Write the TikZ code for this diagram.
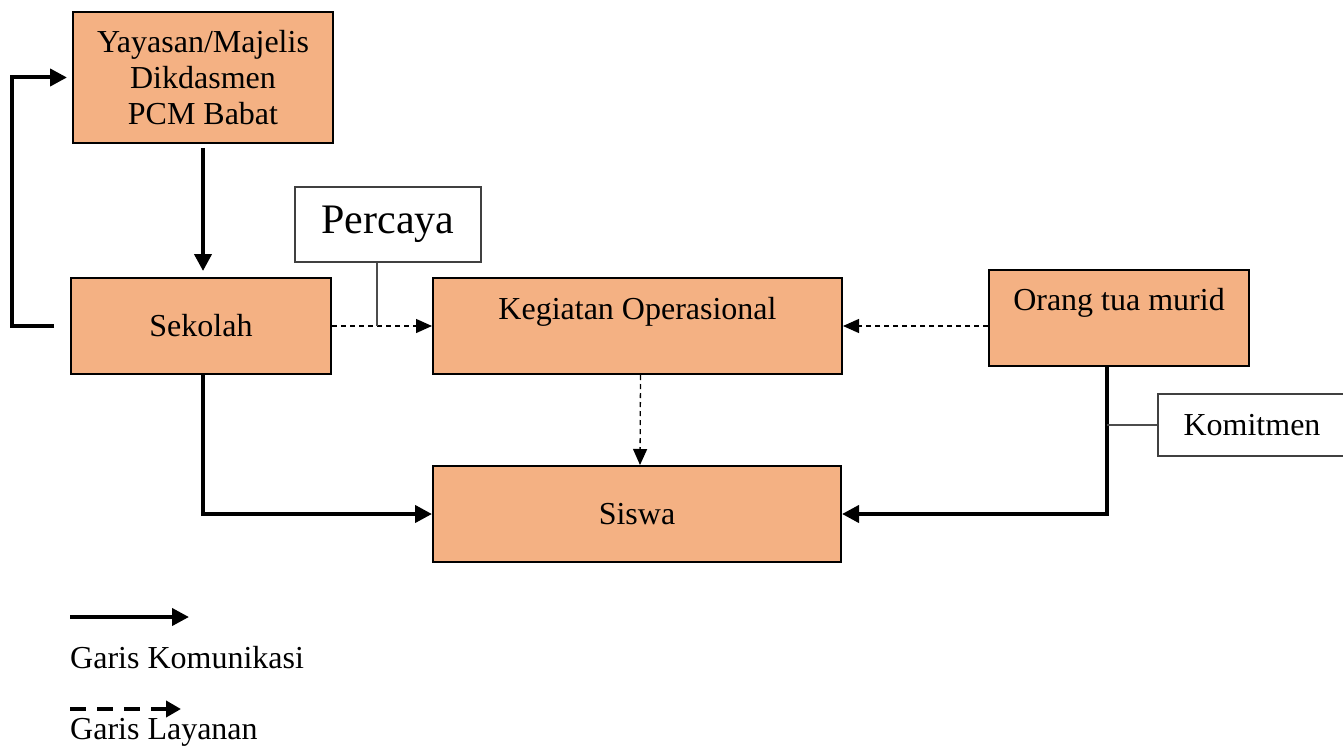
\documentclass[tikz,border=0pt]{standalone}
\usepackage{fontspec}
\setmainfont{Liberation Serif}
\usetikzlibrary{arrows.meta,calc}
\definecolor{oranye}{HTML}{F4B183}

\begin{document}
\begin{tikzpicture}[x=1pt,y=-1pt,
  kotak/.style={draw=black,line width=2pt,fill=oranye,minimum width=260pt,minimum height=96pt,inner sep=0pt,align=center,font=\fontsize{32}{36}\selectfont},
  ket/.style={draw=black!75,line width=1.5pt,fill=white,inner sep=0pt,font=\fontsize{32}{36}\selectfont},
  komunikasi/.style={line width=4pt,-{Triangle[length=17pt,width=17pt]}},
  layanan/.style={line width=1.3pt,dash pattern=on 5pt off 4pt,-{Triangle[length=16pt,width=14pt]}},
  penghubung/.style={draw=black!70,line width=1.2pt}]

\useasboundingbox (0,0) rectangle (1343,746);

\node[kotak,minimum height=131pt] (yayasan) at (203,77.5) {Yayasan/Majelis\\Dikdasmen\\PCM Babat};
\node[kotak] (sekolah) at (201,326) {Sekolah};
\node[kotak,minimum width=409pt,text height=22pt,text depth=36pt] (kegiatan) at (637.5,326) {Kegiatan Operasional};
\node[kotak,text height=22pt,text depth=38pt] (ortu) at (1119,318) {Orang tua murid};
\node[kotak,minimum width=408pt] (siswa) at (637,514) {Siswa};

\node[ket,minimum width=186pt,minimum height=75pt,font=\fontsize{42}{48}\selectfont] (percaya) at (388,224.5) {Percaya};
\node[ket,minimum width=188pt,minimum height=62pt] (komitmen) at (1252,425) {Komitmen};

% garis komunikasi
\draw[komunikasi,shorten >=5pt] ([xshift=-16pt]sekolah.west) -- ++(-42,0) |- (yayasan.west);
\draw[komunikasi,shorten <=4pt,shorten >=6pt] (yayasan.south) -- (yayasan.south |- sekolah.north);
\draw[komunikasi] ([xshift=2pt]sekolah.south) |- (siswa.west);
\coordinate (ortukaki) at ([xshift=-12pt]ortu.south);
\draw[komunikasi] (ortukaki) |- (siswa.east);

% garis layanan
\draw[layanan] (sekolah.east) -- (kegiatan.west |- sekolah.east);
\draw[layanan] (ortu.west |- kegiatan.east) -- (kegiatan.east);
\draw[layanan] ([xshift=3pt]kegiatan.south) -- ([xshift=3pt]siswa.north);

\draw[penghubung] ([xshift=-11pt]percaya.south) -- ([xshift=-11pt]percaya.south |- sekolah.east);
\draw[penghubung] (komitmen.west) -- (komitmen.west -| ortukaki);

% keterangan
\coordinate (k1) at (70,617);
\coordinate (k2) at (189,617);
\draw[komunikasi] (k1) -- (k2);
\node[anchor=base west,inner sep=0pt,font=\fontsize{32}{36}\selectfont] (tkom) at (70,668) {Garis Komunikasi};
\coordinate (l1) at (70,709);
\coordinate (l2) at (181,709);
\draw[line width=4pt,dash pattern=on 16pt off 11pt,-{Triangle[length=15pt,width=16pt]}] (l1) -- (l2);
\node[anchor=base west,inner sep=0pt,font=\fontsize{32}{36}\selectfont] (tlay) at (70,739) {Garis Layanan};

\end{tikzpicture}
\end{document}
